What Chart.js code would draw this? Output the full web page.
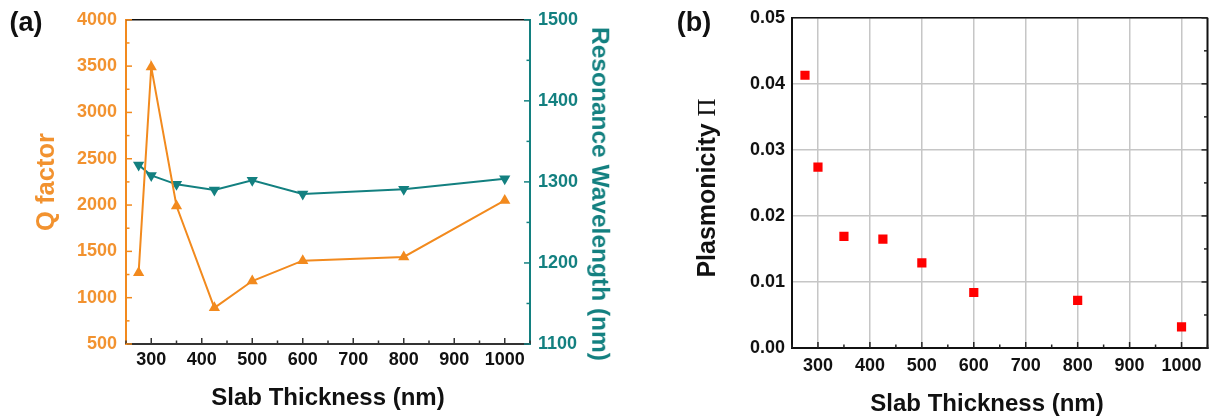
<!DOCTYPE html>
<html>
<head>
<meta charset="utf-8">
<script src="https://cdn.jsdelivr.net/npm/chart.js@4.4.1/dist/chart.umd.min.js"></script>
<style>
  body { margin: 0; background: #fff; width: 1214px; height: 417px; position: relative; overflow: hidden;
         font-family: "Liberation Sans", Arial, sans-serif; }
  canvas { position: absolute; top: 0; }
  #chartA { left: 0; }
  #chartB { left: 620px; }
  .lbl { position: absolute; font-weight: bold; white-space: nowrap; line-height: 1;
         transform: translate(-50%, -50%); }
  .rotL { transform: translate(-50%, -50%) rotate(-90deg); }
  .rotR { transform: translate(-50%, -50%) rotate(90deg); }
  .pi { font-family: "Liberation Serif", "Times New Roman", serif; font-weight: normal; }
</style>
</head>
<body>
<canvas id="chartA" width="620" height="417"></canvas>
<canvas id="chartB" width="594" height="417"></canvas>

<div class="lbl" style="left:26px; top:22px; font-size:27px; color:#111;">(a)</div>
<div class="lbl" style="left:694px; top:22px; font-size:27px; color:#111;">(b)</div>
<div class="lbl rotL" style="left:46px; top:182px; font-size:25.5px; color:#f2922f;">Q factor</div>
<div class="lbl rotR" style="left:600px; top:194px; font-size:24.5px; color:#138080;">Resonance Wavelength (nm)</div>
<div class="lbl" style="left:328px; top:397px; font-size:24px; color:#111;">Slab Thickness (nm)</div>
<div class="lbl rotL" style="left:706px; top:188px; font-size:25px; color:#111;">Plasmonicity <span class="pi">&Pi;</span></div>
<div class="lbl" style="left:987px; top:403px; font-size:24px; color:#111;">Slab Thickness (nm)</div>

<script>
// slab thickness (nm) shared by both panels
const thickness = [275, 300, 350, 425, 500, 600, 800, 1000];
const qFactor = [1270, 3490, 1990, 890, 1180, 1400, 1440, 2050];
const resonanceWl = [1321, 1308, 1297, 1290, 1302, 1285, 1291, 1304];
const plasmonicity = [0.0413, 0.0274, 0.0169, 0.0165, 0.0129, 0.0084, 0.0072, 0.0032];

const xTicks = [300, 400, 500, 600, 700, 800, 900, 1000];
const qTicks = [500, 1000, 1500, 2000, 2500, 3000, 3500, 4000];
const wlTicks = [1100, 1200, 1300, 1400, 1500];
const piTicks = [0, 0.01, 0.02, 0.03, 0.04, 0.05];

const ORANGE = '#f28a1e';
const ORANGE_TXT = '#f2922f';
const TEAL = '#138080';
const tickFont = { family: '"Liberation Sans", Arial, sans-serif', size: 18, weight: 'bold' };
const plain = v => String(v);

// half-way positions between major ticks, kept inside [min, max]
function halfSteps(ticks, min, max) {
    const step = ticks[1] - ticks[0];
    const out = [];
    for (let v = ticks[0] - step / 2; v <= max + 1e-9; v += step) {
        if (v >= min - 1e-9) out.push(v);
    }
    return out;
}

// short tick marks pointing into the plot area
function drawInTicks(chart, scale, side, majors, minors, color) {
    const ctx = chart.ctx, a = chart.chartArea;
    ctx.save();
    ctx.strokeStyle = color;
    ctx.lineWidth = 1.5;
    const mark = (v, len) => {
        const p = scale.getPixelForValue(v);
        ctx.beginPath();
        if (side === 'bottom') { ctx.moveTo(p, a.bottom); ctx.lineTo(p, a.bottom - len); }
        else if (side === 'left') { ctx.moveTo(a.left, p); ctx.lineTo(a.left + len, p); }
        else { ctx.moveTo(a.right, p); ctx.lineTo(a.right - len, p); }
        ctx.stroke();
    };
    majors.forEach(v => mark(v, 6));
    minors.forEach(v => mark(v, 3.5));
    ctx.restore();
}

function frameLine(chart, x1, y1, x2, y2, color, width) {
    const ctx = chart.ctx;
    ctx.save();
    ctx.strokeStyle = color;
    ctx.lineWidth = width;
    ctx.beginPath();
    ctx.moveTo(x1, y1);
    ctx.lineTo(x2, y2);
    ctx.stroke();
    ctx.restore();
}

const setTicks = list => scale => { scale.ticks = list.map(v => ({ value: v })); };

// ---- panel (a): Q factor and resonance wavelength ----
const framePluginA = {
    id: 'frameA',
    afterDraw(chart) {
        const a = chart.chartArea, s = chart.scales;
        frameLine(chart, a.left, a.top, a.right, a.top, '#111', 1.5);
        drawInTicks(chart, s.x, 'bottom', xTicks, halfSteps(xTicks, 250, 1050), '#333');
        drawInTicks(chart, s.y, 'left', qTicks, halfSteps(qTicks, 500, 4000), ORANGE);
        drawInTicks(chart, s.y2, 'right', wlTicks, halfSteps(wlTicks, 1100, 1500), TEAL);
    }
};

new Chart(document.getElementById('chartA'), {
    type: 'line',
    data: {
        datasets: [{
            label: 'Q factor',
            data: thickness.map((t, i) => ({ x: t, y: qFactor[i] })),
            yAxisID: 'y',
            borderColor: ORANGE,
            backgroundColor: ORANGE,
            borderWidth: 2,
            pointStyle: 'triangle',
            pointRadius: 6.5,
            pointBorderWidth: 0,
            tension: 0
        }, {
            label: 'Resonance Wavelength',
            data: thickness.map((t, i) => ({ x: t, y: resonanceWl[i] })),
            yAxisID: 'y2',
            borderColor: TEAL,
            backgroundColor: TEAL,
            borderWidth: 2,
            pointStyle: 'triangle',
            pointRotation: 180,
            pointRadius: 6.5,
            pointBorderWidth: 0,
            tension: 0
        }]
    },
    options: {
        responsive: false,
        animation: false,
        devicePixelRatio: 1,
        layout: { padding: { top: 13, left: 0, right: 0, bottom: 0 } },
        plugins: { legend: { display: false }, tooltip: { enabled: false } },
        scales: {
            x: {
                type: 'linear', min: 250, max: 1050,
                afterBuildTicks: setTicks(xTicks),
                afterFit: s => { s.height = 73; },
                grid: { drawOnChartArea: false, drawTicks: false },
                border: { color: '#333', width: 2 },
                ticks: { font: tickFont, color: '#111', padding: 5, maxRotation: 0, callback: plain }
            },
            y: {
                type: 'linear', position: 'left', min: 500, max: 4000,
                afterBuildTicks: setTicks(qTicks),
                afterFit: s => { s.width = 126; },
                grid: { drawOnChartArea: false, drawTicks: false },
                border: { color: ORANGE, width: 2 },
                ticks: { font: tickFont, color: ORANGE_TXT, padding: 9, callback: plain }
            },
            y2: {
                type: 'linear', position: 'right', min: 1100, max: 1500,
                afterBuildTicks: setTicks(wlTicks),
                afterFit: s => { s.width = 90; },
                grid: { drawOnChartArea: false, drawTicks: false },
                border: { color: TEAL, width: 2 },
                ticks: { font: tickFont, color: TEAL, padding: 8, callback: plain }
            }
        }
    },
    plugins: [framePluginA]
});

// ---- panel (b): plasmonicity ----
const framePluginB = {
    id: 'frameB',
    afterDraw(chart) {
        const a = chart.chartArea, s = chart.scales;
        frameLine(chart, a.left, a.top, a.right, a.top, '#111', 1.5);
        frameLine(chart, a.right, a.top, a.right, a.bottom + 1, '#111', 2);
        drawInTicks(chart, s.x, 'bottom', xTicks, halfSteps(xTicks, 250, 1050), '#222');
        drawInTicks(chart, s.y, 'right', piTicks, halfSteps(piTicks, 0, 0.05), '#222');
    }
};

new Chart(document.getElementById('chartB'), {
    type: 'scatter',
    data: {
        datasets: [{
            label: 'Plasmonicity',
            data: thickness.map((t, i) => ({ x: t, y: plasmonicity[i] })),
            backgroundColor: '#ff0000',
            borderColor: '#ff0000',
            pointStyle: 'rect',
            pointRadius: 6.5,
            pointBorderWidth: 0
        }]
    },
    options: {
        responsive: false,
        animation: false,
        devicePixelRatio: 1,
        layout: { padding: { top: 8, left: 0, right: 6, bottom: 0 } },
        plugins: { legend: { display: false }, tooltip: { enabled: false } },
        scales: {
            x: {
                type: 'linear', min: 250, max: 1050,
                afterBuildTicks: setTicks(xTicks),
                afterFit: s => { s.height = 69; },
                grid: { color: '#c6c6c6', lineWidth: 1.5, drawTicks: false },
                border: { color: '#111', width: 2 },
                ticks: { font: tickFont, color: '#111', padding: 7, maxRotation: 0, callback: plain }
            },
            y: {
                type: 'linear', min: 0, max: 0.05,
                afterBuildTicks: setTicks(piTicks),
                afterFit: s => { s.width = 172; },
                grid: { color: '#c6c6c6', lineWidth: 1.5, drawTicks: false },
                border: { color: '#111', width: 2 },
                ticks: { font: tickFont, color: '#111', padding: 7, callback: v => v.toFixed(2) }
            }
        }
    },
    plugins: [framePluginB]
});
</script>
</body>
</html>
